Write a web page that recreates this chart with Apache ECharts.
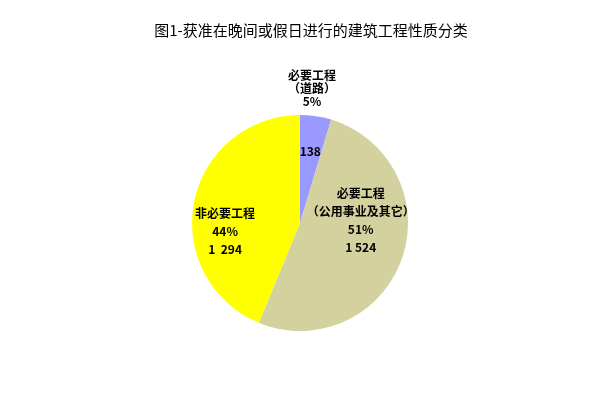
<!DOCTYPE html>
<html><head><meta charset="utf-8">
<script src="https://cdn.jsdelivr.net/npm/echarts@6/dist/echarts.min.js"></script>
<style>html,body{margin:0;padding:0;background:#fff}#c{width:602px;height:418px}</style>
</head><body><div id="c"></div>
<script>
var titleText = '图1-获准在晚间或假日进行的建筑工程性质分类';
var names = ['必要工程\n（道路）', '必要工程\n（公用事业及其它）', '非必要工程'];
var values = [138, 1524, 1294];
var valueLabels = ['138', '1 524', '1  294'];
var colors = ['#9999ff', '#d3d19e', '#ffff00'];

var font = '"Noto Sans CJK SC", sans-serif';
var chart = echarts.init(document.getElementById('c'));
var dataMain = values.map(function (v, i) {
  return { value: v, name: names[i], itemStyle: { color: colors[i] } };
});
var offs = [[2, -15], [7, -22], [-19, 20]];
chart.setOption({
  animation: false,
  title: {
    text: titleText, left: 306, top: 18, textAlign: 'center',
    textStyle: { fontFamily: font, fontSize: 15, fontWeight: 'normal', color: '#000' }
  },
  series: [{
    type: 'pie', center: [300, 223], radius: 108, startAngle: 90, clockwise: true,
    percentPrecision: 0, silent: true,
    data: dataMain,
    itemStyle: { borderWidth: 0 },
    label: {
      position: 'inside', fontFamily: font, fontSize: 12, fontWeight: 'bold', color: '#000', lineHeight: 18,
      formatter: function (p) {
        if (p.dataIndex === 0) return valueLabels[0];
        return p.name + '\n' + p.percent + '%\n{g|}\n' + valueLabels[p.dataIndex];
      },
      rich: { g: { height: 0, lineHeight: 0 } }
    },
    labelLine: { show: false },
    labelLayout: function (params) {
      var o = offs[params.dataIndex];
      return { dx: o[0], dy: o[1] };
    }
  }, {
    type: 'pie', center: [300, 223], radius: 108, startAngle: 90, clockwise: true,
    percentPrecision: 0, silent: true,
    data: values.map(function (v, i) { return { value: v, name: names[i] }; }),
    itemStyle: { color: 'rgba(0,0,0,0)' },
    label: {
      position: 'outside', fontFamily: font, fontSize: 12, fontWeight: 'bold', color: '#000', lineHeight: 13,
      align: 'center',
      formatter: function (p) {
        if (p.dataIndex !== 0) return '';
        return p.name + '\n' + p.percent + '%';
      }
    },
    labelLine: { show: false },
    labelLayout: function (params) {
      if (params.dataIndex !== 0) return {};
      return { x: 312, y: 88, align: 'center', verticalAlign: 'middle' };
    }
  }]
});
</script></body></html>
